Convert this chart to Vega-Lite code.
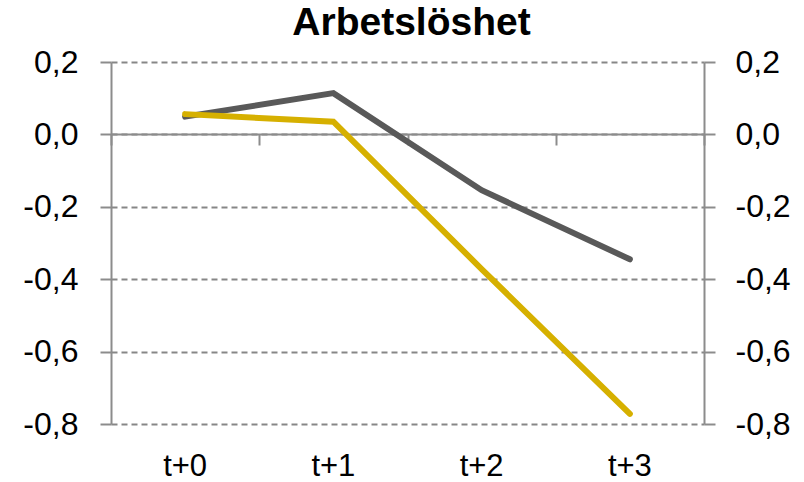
{
  "$schema": "https://vega.github.io/schema/vega-lite/v6.json",
  "width": 593,
  "height": 362,
  "autosize": "none",
  "padding": {"left": 111, "top": 62, "right": 100, "bottom": 58},
  "title": {"text": "Arbetslöshet", "font": "Liberation Sans", "fontSize": 39, "fontWeight": "bold", "color": "#000000", "anchor": "middle", "offset": 3, "dx": 4},
  "data": {"values": [
    {"t": "t+0", "serie": "gra", "varde": 0.049},
    {"t": "t+1", "serie": "gra", "varde": 0.114},
    {"t": "t+2", "serie": "gra", "varde": -0.154},
    {"t": "t+3", "serie": "gra", "varde": -0.345},
    {"t": "t+0", "serie": "gul", "varde": 0.056},
    {"t": "t+1", "serie": "gul", "varde": 0.035},
    {"t": "t+2", "serie": "gul", "varde": -0.372},
    {"t": "t+3", "serie": "gul", "varde": -0.772}
  ]},
  "layer": [
    {
      "transform": [{"filter": "datum.serie === 'gra'"}],
      "mark": {"type": "line", "strokeWidth": 6, "strokeCap": "round", "color": "#595959"},
      "encoding": {
        "x": {"field": "t", "type": "nominal", "bandPosition": 0.5,
          "scale": {"type": "band", "paddingInner": 0, "paddingOuter": 0},
          "axis": {"orient": "bottom", "title": null, "domain": false, "ticks": false, "tickSize": 0, "labelPadding": 27, "labelAngle": 0,
            "labelFont": "Liberation Sans", "labelFontSize": 31, "labelColor": "#000000", "grid": false}},
        "y": {"field": "varde", "type": "quantitative",
          "scale": {"domain": [-0.8, 0.2], "nice": false, "zero": false},
          "axis": {"orient": "left", "title": null, "values": [-0.8, -0.6, -0.4, -0.2, 0, 0.2], "format": ".1f",
            "grid": true, "gridDash": [6, 4], "gridColor": "#878787", "gridWidth": 2,
            "domainColor": "#8c8c8c", "domainWidth": 2, "tickColor": "#8c8c8c", "tickWidth": 2, "tickSize": 11,
            "labelPadding": 22, "labelFont": "Liberation Sans", "labelFontSize": 32, "labelColor": "#000000"}}
      }
    },
    {
      "transform": [{"filter": "datum.serie === 'gul'"}],
      "mark": {"type": "line", "strokeWidth": 6, "strokeCap": "round", "color": "#D6B000"},
      "encoding": {
        "x": {"field": "t", "type": "nominal", "bandPosition": 0.5,
          "scale": {"type": "band", "paddingInner": 0, "paddingOuter": 0},
          "axis": {"orient": "bottom", "title": null, "offset": -290, "labels": false, "domain": true, "domainColor": "#8c8c8c", "domainWidth": 2,
            "ticks": true, "tickBand": "extent", "tickSize": 11, "tickColor": "#8c8c8c", "tickWidth": 2, "grid": false}},
        "y": {"field": "varde", "type": "quantitative",
          "scale": {"domain": [-0.8, 0.2], "nice": false, "zero": false},
          "axis": {"orient": "right", "title": null, "values": [-0.8, -0.6, -0.4, -0.2, 0, 0.2], "format": ".1f", "grid": false,
            "domainColor": "#8c8c8c", "domainWidth": 2, "tickColor": "#8c8c8c", "tickWidth": 2, "tickSize": 11,
            "labelPadding": 20, "labelFont": "Liberation Sans", "labelFontSize": 32, "labelColor": "#000000"}}
      }
    }
  ],
  "resolve": {"axis": {"x": "independent", "y": "independent"}},
  "config": {
    "view": {"stroke": null},
    "background": "#ffffff",
    "locale": {"number": {"decimal": ",", "thousands": " ", "grouping": [3], "currency": ["", " kr"], "minus": "-"}}
  }
}
